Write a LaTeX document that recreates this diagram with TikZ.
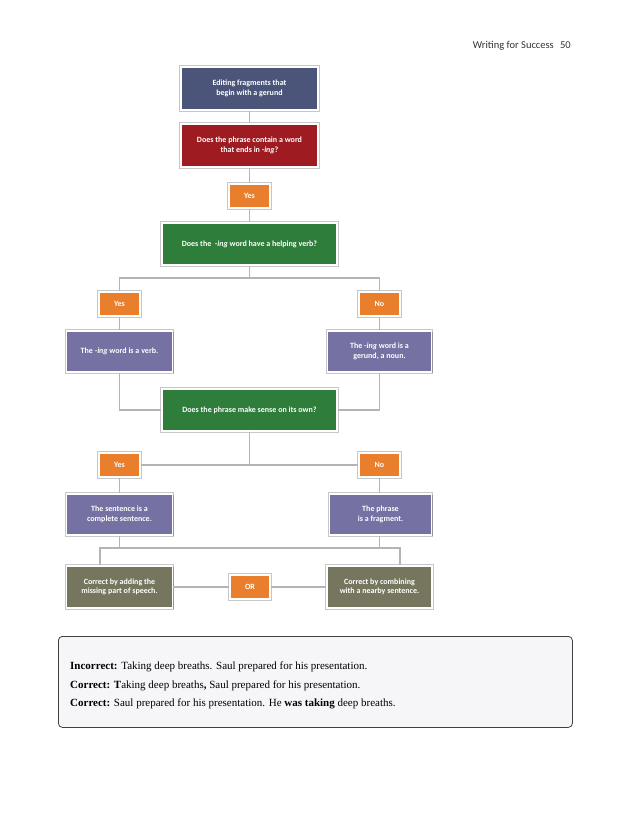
\documentclass[tikz,border=0pt]{standalone}
\usepackage{fontspec}
\setmainfont{Liberation Serif}
\newfontfamily\boxfont{Carlito}
\usetikzlibrary{shadows}
\definecolor{cnavy}{HTML}{4B5579}
\definecolor{cred}{HTML}{9E1B22}
\definecolor{corange}{HTML}{E97F2C}
\definecolor{cgreen}{HTML}{2E7D3B}
\definecolor{cpurple}{HTML}{7571A3}
\definecolor{colive}{HTML}{76765F}
\definecolor{cline}{HTML}{B4B4B4}
\definecolor{cpanel}{HTML}{F6F6F8}
\tikzset{
  fbox/.style={draw=white, line width=1.6pt, text=white, align=center,
    font=\boxfont\bfseries\fontsize{8}{9.5}\selectfont, inner sep=2pt,
    preaction={draw=black!22, line width=3.2pt},
    drop shadow={shadow xshift=1pt, shadow yshift=-1pt, fill=black, opacity=0.25}},
  titlebox/.style={fbox, fill=cnavy, minimum width=137pt, minimum height=43pt},
  qbox/.style={fbox, fill=cred, minimum width=137pt, minimum height=43pt},
  greenbox/.style={fbox, fill=cgreen, minimum width=175pt, minimum height=42pt},
  ansbox/.style={fbox, fill=corange, minimum width=41pt, minimum height=24pt},
  purplebox/.style={fbox, fill=cpurple, minimum width=106pt, minimum height=41pt},
  olivebox/.style={fbox, fill=colive, minimum width=106pt, minimum height=42pt},
  conn/.style={draw=cline, line width=1.8pt},
}
\begin{document}
\begin{tikzpicture}[x=1pt,y=-1pt]
\useasboundingbox (0,0) rectangle (630,815);
% header
\node[anchor=base east, font=\boxfont\fontsize{10.5}{12}\selectfont, text=black!80, inner sep=0pt] (hdr) at (571,48) {Writing for Success\hspace{0.6em}50};
\coordinate (j1) at (249.5,278);
\coordinate (j3) at (100,548);
\coordinate (j4) at (400,548);
% nodes
\node[titlebox] (b1) at (249.5,88.5) {Editing fragments that\\begin with a gerund};
\node[qbox] (b2) at (249.5,145.5) {Does the phrase contain a word\\that ends in \textit{-ing}?};
\node[ansbox] (y1) at (249.5,196) {Yes};
\node[greenbox] (g1) at (249.5,244) {Does the \ \textit{-ing} word have a helping verb?};
\node[ansbox] (y2) at (119.5,304) {Yes};
\node[ansbox] (n2) at (379.5,304) {No};
\node[purplebox] (pl1) at (119.5,351.5) {The \textit{-ing} word is a verb.};
\node[purplebox, minimum width=104pt] (pr1) at (379.5,351.5) {The \textit{-ing} word is a\\gerund, a noun.};
\node[greenbox] (g2) at (249.5,410) {Does the phrase make sense on its own?};
\node[ansbox] (y3) at (119.5,465) {Yes};
\node[ansbox] (n3) at (379.5,465) {No};
\node[purplebox] (pl2) at (119.5,514.5) {The sentence is a\\complete sentence.};
\node[purplebox, minimum width=102pt] (pr2) at (380.5,514.5) {The phrase\\is a fragment.};
\node[olivebox] (ol) at (119.5,587) {Correct by adding the\\missing part of speech.};
\node[olivebox, minimum width=105pt] (or) at (379.5,587) {Correct by combining\\with a nearby sentence.};
\node[ansbox, minimum width=40pt] (orb) at (250,587) {OR};
% connectors
\path[conn] (b1.south) -- (b2.north);
\path[conn] (b2.south) -- (y1.north);
\path[conn] (y1.south) -- (g1.north);
\path[conn] (g1.south) -- (j1);
\path[conn] (y2.north) |- (j1) -| (n2.north);
\path[conn] (y2.south) -- (pl1.north);
\path[conn] (n2.south) -- (pr1.north);
\path[conn] (pl1.south) |- (g2.west);
\path[conn] (pr1.south) |- (g2.east);
\path[conn] (g2.south) -- (g2.south |- y3.east);
\path[conn] (y3.east) -- (n3.west);
\path[conn] (y3.south) -- (pl2.north);
\path[conn] (n3.south) -- (n3.south |- pr2.north);
\path[conn] (pl2.south) -- (pl2.south |- j3);
\path[conn] (n3.south |- pr2.south) -- (n3.south |- j4);
\path[conn] (ol.north -| j3) -- (j3) -- (j4) -- (or.north -| j4);
\path[conn] (ol.east) -- (orb.west);
\path[conn] (orb.east) -- (or.west);
% example panel
\node[draw=black!75, line width=0.8pt, fill=cpanel, rounded corners=4pt, minimum width=514pt, minimum height=91pt, anchor=north west] (panel) at (58,636) {};
\node[anchor=base west, font=\fontsize{11}{13}\selectfont, inner sep=0pt] (l1) at (70,669.5) {\textbf{Incorrect:} Taking deep breaths. Saul prepared for his presentation.};
\node[anchor=base west, font=\fontsize{11}{13}\selectfont, inner sep=0pt] (l2) at (70,688) {\textbf{Correct: T}aking deep breaths\textbf{,} Saul prepared for his presentation.};
\node[anchor=base west, font=\fontsize{11}{13}\selectfont, inner sep=0pt] (l3) at (70,706.5) {\textbf{Correct:} Saul prepared for his presentation. He \textbf{was taking} deep breaths.};
\end{tikzpicture}
\end{document}
